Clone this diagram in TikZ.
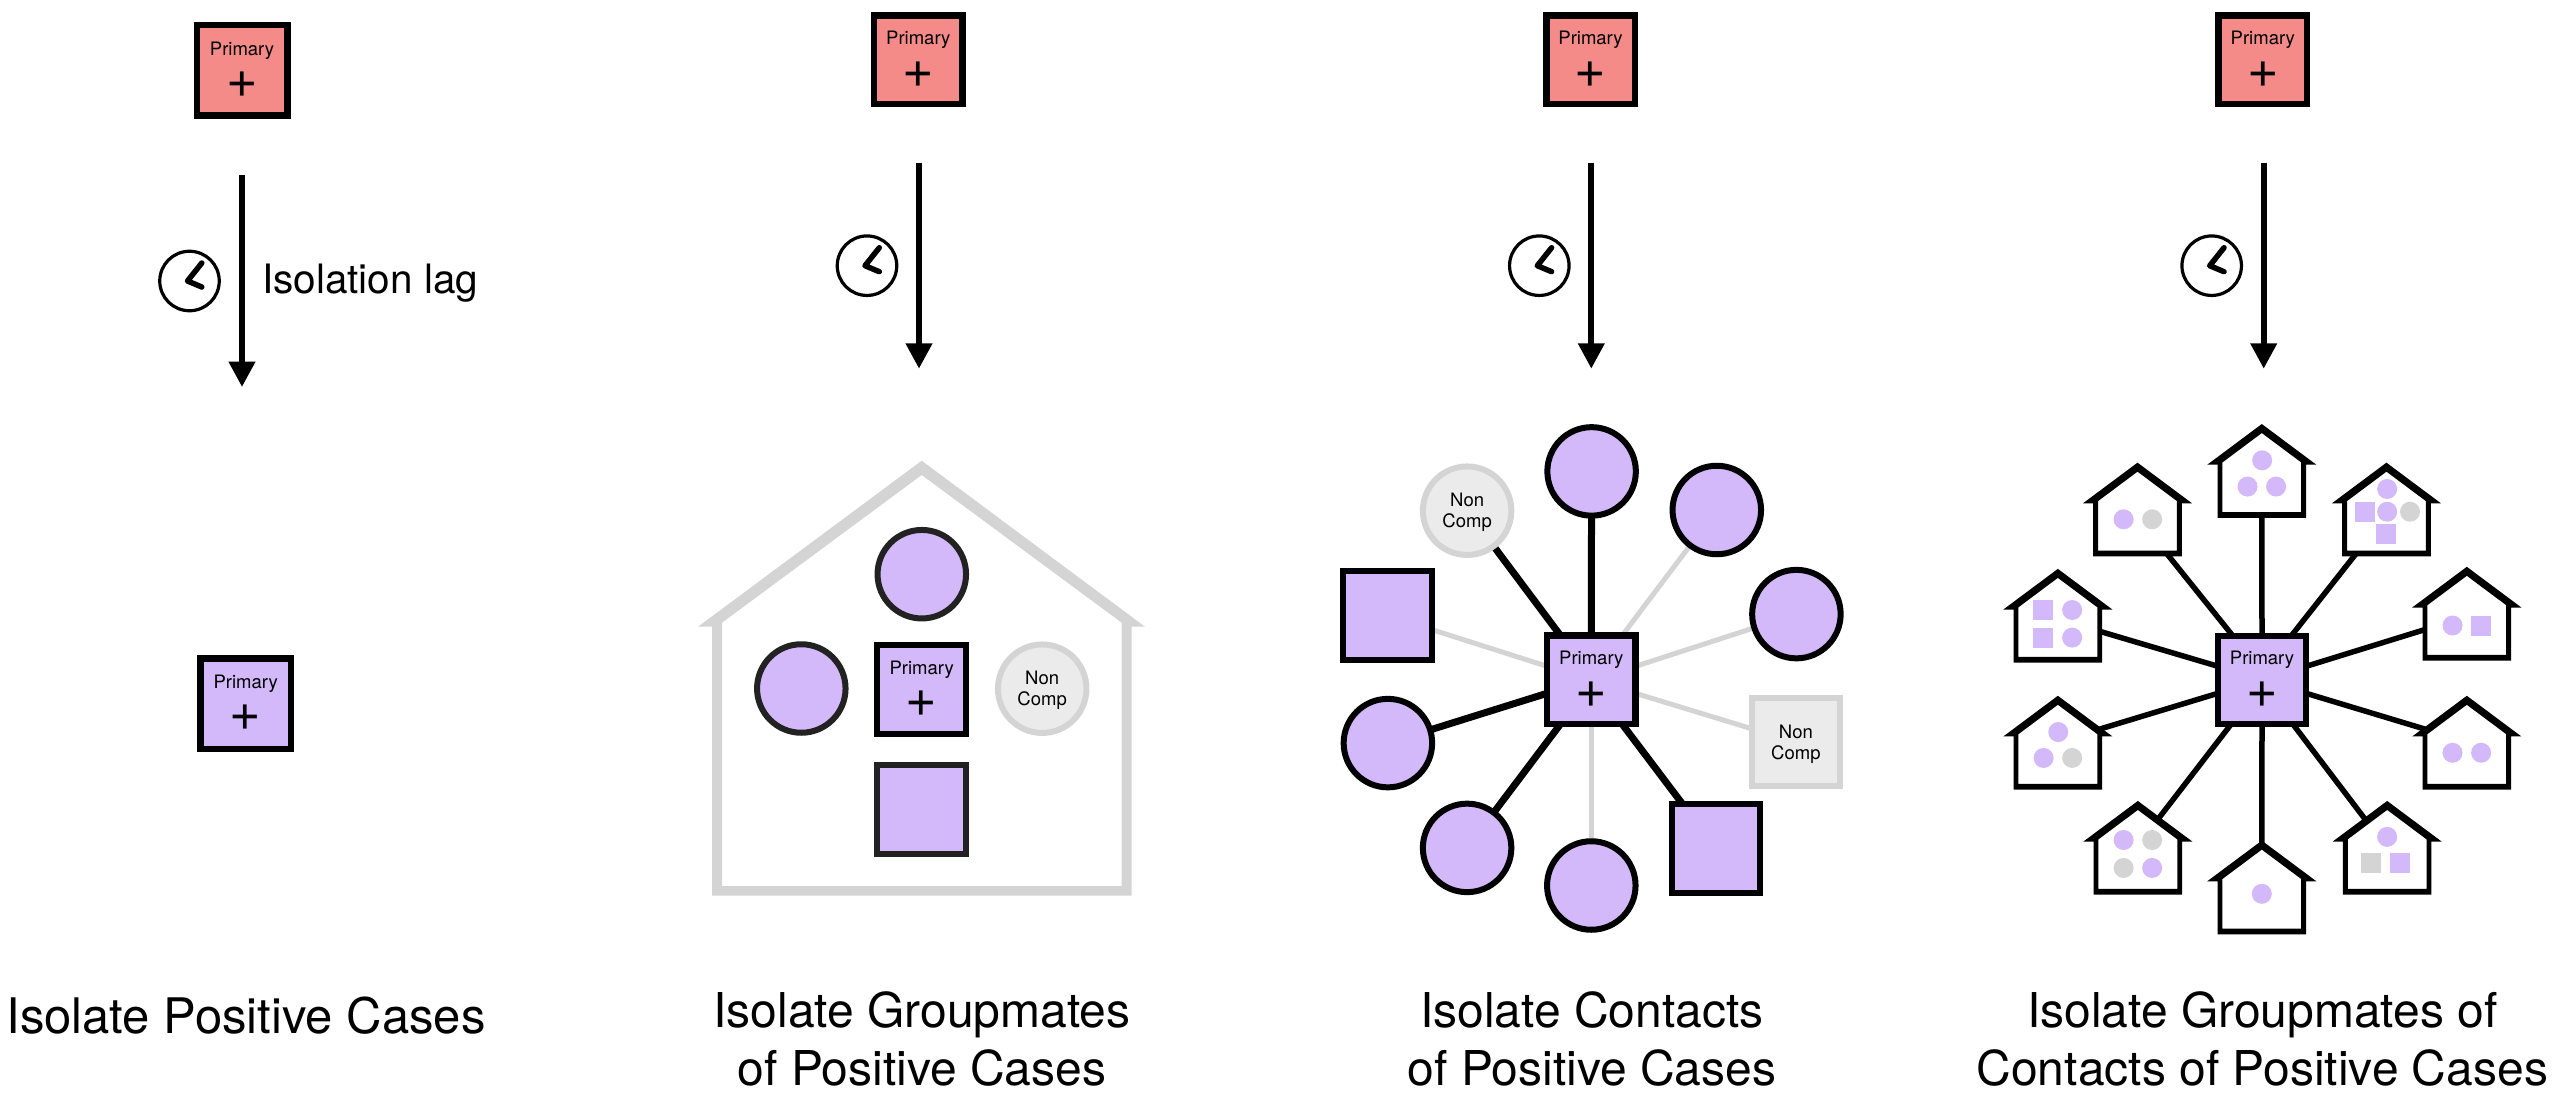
\documentclass[tikz,border=0pt]{standalone}
\usepackage{fontspec}
\setmainfont{TeX Gyre Heros}
\usetikzlibrary{arrows.meta,backgrounds}
\definecolor{casepurple}{HTML}{D3B8FA}
\definecolor{casered}{HTML}{F48B88}
\definecolor{ncgray}{HTML}{D4D4D4}
\definecolor{ncfill}{HTML}{EBEBEB}
\definecolor{softblack}{HTML}{222222}
\tikzset{
  pbox/.style={draw=black,line width=6.5pt,rectangle,minimum size=88.5pt,inner sep=0pt},
  ptext/.style={font=\fontsize{18.5}{20}\selectfont,anchor=base,inner sep=0pt},
  pplus/.style={font=\fontsize{54}{54}\selectfont,anchor=base,inner sep=0pt},
  circ/.style={circle,draw=black,fill=casepurple,line width=6pt,minimum size=88.5pt,inner sep=0pt},
  sqr/.style={rectangle,draw=black,fill=casepurple,line width=6pt,minimum size=88.5pt,inner sep=0pt},
  nccirc/.style={circle,draw=ncgray,fill=ncfill,line width=6pt,minimum size=88.5pt,inner sep=0pt,align=center,font=\fontsize{18.5}{21.3}\selectfont},
  ncsqr/.style={rectangle,draw=ncgray,fill=ncfill,line width=6pt,minimum size=88.5pt,inner sep=0pt,align=center,font=\fontsize{18.5}{21.3}\selectfont},
  caption/.style={font=\fontsize{48}{57.6}\selectfont,align=center,inner sep=0pt},
  isoarrow/.style={line width=6pt,-{Triangle[length=25.4pt,width=25.4pt]}},
  thickconn/.style={line width=7pt,draw=black,shorten <=-3pt,shorten >=-3pt},
  grayconn/.style={line width=5pt,draw=ncgray,shorten <=-3pt,shorten >=-3pt},
  hconn/.style={line width=5.5pt,draw=black,shorten <=-3pt},
  hnode/.style={rectangle,minimum width=109.6pt,minimum height=94pt,inner sep=0pt,outer sep=0pt},
}
\newcommand{\primarybox}[5]{%
  \node[pbox,fill=#4,minimum size=#5pt] (#1) at (#2,#3) {};
  \node[ptext] (#1t) at ([yshift=15.2pt]#1.center) {Primary};
  \node[pplus] (#1p) at ([yshift=-27.2pt]#1.center) {+};
}
\newcommand{\clockicon}[3]{%
  \node[circle,draw=black,line width=3.2pt,minimum size=59.5pt,inner sep=0pt] (#1) at (#2,#3) {};
  \draw[line width=5.5pt,line cap=round,line join=round] ([shift={(12.3,-18)}]#1.center) -- ([shift={(-2,0)}]#1.center) -- ([shift={(12.3,6)}]#1.center);
}
\newcommand{\tinyhouse}[3]{%
  \node[hnode] (#1) at (#2,#3+136) {};
  \begin{scope}[shift={(#1.center)},x=1pt,y=-1pt]
    \fill[white] (0,-38) -- (39.4,-8.6) -- (39.4,41) -- (-39.4,41) -- (-39.4,-8.6) -- cycle;
    \fill[black,even odd rule] (0,-47) -- (54.6,-6.3) -- (44.3,-6.3) -- (44.3,46.8) -- (-44.3,46.8) -- (-44.3,-6.3) -- (-54.6,-6.3) -- cycle
      (0,-38) -- (39.4,-8.6) -- (39.4,41) -- (-39.4,41) -- (-39.4,-8.6) -- cycle;
  \end{scope}
}
\newcommand{\pdot}[3][casepurple]{\fill[#1] (#2,#3) circle[radius=10pt];}
\newcommand{\psq}[3][casepurple]{\fill[#1] (#2,#3) +(-10pt,-10pt) rectangle +(10pt,10pt);}
\newcommand{\hlink}[4]{\draw[hconn] (h.#1) -- ([shift={(#3,#4)}]#2.center);}
\begin{document}
\begin{tikzpicture}[x=1pt,y=-1pt]
\useasboundingbox (0,0) rectangle (2552,1102);

% column 1
\primarybox{a}{242}{70.4}{casered}{90.5}
\primarybox{b}{245.7}{703.7}{casepurple}{90.5}
\coordinate (a1s) at (242,175); \coordinate (a1e) at (242,387);
\draw[isoarrow] (a1s) -- (a1e);
\clockicon{ca}{189.5}{281}
\node[font=\fontsize{40.5}{44}\selectfont,anchor=base west,inner sep=0pt] (lag) at (262,293) {Isolation lag};
\node[caption,anchor=base,font=\fontsize{49}{57.6}\selectfont] (t1) at (246,1033) {Isolate Positive Cases};

% column 2
\primarybox{c}{918.3}{60}{casered}{88.5}
\coordinate (a2s) at (919,162.7); \coordinate (a2e) at (919,368.7);
\draw[isoarrow] (a2s) -- (a2e);
\clockicon{cb}{867}{265.7}
\fill[ncgray,even odd rule] (698,626.7) -- (921.7,460.7) -- (1145,626.7) -- (1131.7,626.7) -- (1131.7,895.7) -- (712,895.7) -- (712,626.7) -- cycle
  (921.7,475) -- (1121.7,622.7) -- (1121.7,886) -- (722,886) -- (722,622.7) -- cycle;
\node[circ,draw=softblack] (g1) at (921.8,574.2) {};
\node[circ,draw=softblack] (g2) at (801.3,688.5) {};
\primarybox{d}{921.7}{689.7}{casepurple}{89}
\node[nccirc] (g3) at (1042.2,688.7) {\rule{0pt}{16pt}Non\\Comp};
\node[sqr,draw=softblack] (g4) at (921.7,809.3) {};
\node[caption,anchor=center] (t2) at (922,1039) {Isolate Groupmates\\of Positive Cases};

% column 3
\primarybox{e}{1590.5}{60}{casered}{88.5}
\coordinate (a3s) at (1591.3,162.7); \coordinate (a3e) at (1591.3,368.7);
\draw[isoarrow] (a3s) -- (a3e);
\clockicon{cc}{1539.3}{265.7}
\primarybox{f}{1591.3}{679.8}{casepurple}{88.5}
\node[circ] (n1) at (1591.6,471.4) {};
\node[circ] (n2) at (1716.8,510) {};
\node[circ] (n3) at (1796.4,614.1) {};
\node[ncsqr] (n4) at (1795.9,742.2) {\rule{0pt}{17pt}Non\\Comp};
\node[sqr] (n5) at (1715.9,848.3) {};
\node[circ] (n6) at (1591.3,885.5) {};
\node[circ] (n7) at (1467.1,847.9) {};
\node[circ] (n8) at (1387.9,743.1) {};
\node[sqr] (n9) at (1387.5,615.5) {};
\node[nccirc] (n10) at (1467.1,510.7) {\rule{0pt}{16pt}Non\\Comp};
\begin{scope}[on background layer]
  \draw[thickconn] (f.90) -- (n1);
  \draw[grayconn] (f.55) -- (n2);
  \draw[grayconn] (f.17) -- (n3);
  \draw[grayconn] (f.-17) -- (n4);
  \draw[thickconn] (f.-55) -- (n5);
  \draw[grayconn] (f.-90) -- (n6);
  \draw[thickconn] (f.-125) -- (n7);
  \draw[thickconn] (f.-163) -- (n8);
  \draw[grayconn] (f.163) -- (n9);
  \draw[thickconn] (f.125) -- (n10);
\end{scope}
\node[caption,anchor=center] (t3) at (1592,1039) {Isolate Contacts\\of Positive Cases};

% column 4
\primarybox{g}{2262.8}{60}{casered}{88.5}
\coordinate (a4s) at (2263.7,162.7); \coordinate (a4e) at (2263.7,368.7);
\draw[isoarrow] (a4s) -- (a4e);
\clockicon{cd}{2211.7}{265.7}
\primarybox{h}{2262}{679.8}{casepurple}{88}
\begin{scope}[shift={(1990,400)},x=0.357143pt,y=-0.344828pt]
  \tinyhouse{h1}{761}{70}
  \tinyhouse{h2}{1110}{182}
  \tinyhouse{h3}{1335}{484}
  \tinyhouse{h4}{1335}{858}
  \tinyhouse{h5}{1112}{1163}
  \tinyhouse{h6}{761}{1278}
  \tinyhouse{h7}{414}{1163}
  \tinyhouse{h8}{190}{858}
  \tinyhouse{h9}{190}{490}
  \tinyhouse{h10}{413}{182}
  \pdot{762}{175}\pdot{721}{251}\pdot{801}{251}
  \pdot{1112}{258}\psq{1050}{324}\pdot{1112}{324}\pdot[ncgray]{1176}{324}\psq{1109}{389}
  \pdot{1295}{654}\psq{1375}{654}
  \pdot{1295}{1023}\pdot{1375}{1023}
  \pdot{1112}{1267}\psq[ncgray]{1067}{1343}\psq{1148}{1343}
  \pdot{761}{1432}
  \pdot{374}{1276}\pdot[ncgray]{454}{1276}\pdot[ncgray]{374}{1357}\pdot{454}{1357}
  \pdot{191}{963}\pdot{150}{1038}\pdot[ncgray]{230}{1038}
  \psq{149}{609}\pdot{230}{609}\psq{149}{689}\pdot{230}{689}
  \pdot{374}{346}\pdot[ncgray]{454}{346}
\end{scope}
\begin{scope}[on background layer]
  \hlink{90}{h1}{0}{44}
  \hlink{56}{h2}{-30.4}{44}
  \hlink{17}{h3}{-41}{15.5}
  \hlink{-17}{h4}{-41}{-13.4}
  \hlink{-55}{h5}{-20}{-26}
  \hlink{-90}{h6}{0}{-44}
  \hlink{-125}{h7}{18}{-26}
  \hlink{-163}{h8}{41}{-13.4}
  \hlink{163}{h9}{41}{15.2}
  \hlink{124}{h10}{29.3}{44}
\end{scope}
\node[caption,anchor=center] (t4) at (2262.3,1039) {Isolate Groupmates of\\Contacts of Positive Cases};
\end{tikzpicture}
\end{document}
